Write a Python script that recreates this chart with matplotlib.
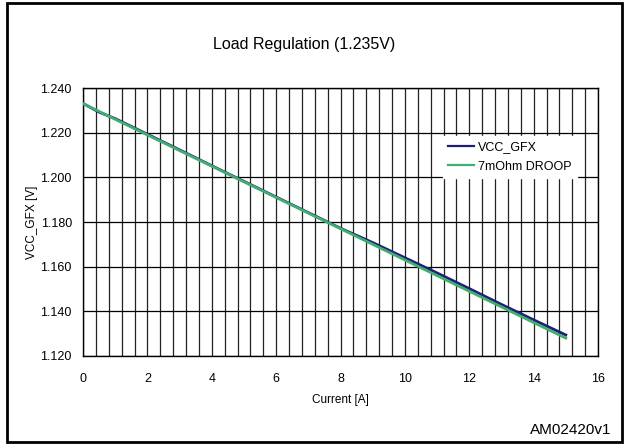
import matplotlib
matplotlib.use('Agg')
import matplotlib.pyplot as plt
from matplotlib.patches import Rectangle
import numpy as np

plt.rcParams['font.family'] = ['Liberation Sans', 'DejaVu Sans']

# ── Dati ─────────────────────────────────────────────────────────────────
current = [0, 0.5, 1, 2, 3, 4, 5, 6, 7, 8, 9, 10, 11, 12, 13, 14, 15]
vcc_gfx = [1.2331, 1.2292, 1.2263, 1.2193, 1.2123, 1.2052, 1.1982, 1.1912,
           1.1842, 1.1772, 1.1708, 1.1640, 1.1572, 1.1502, 1.1431, 1.1362, 1.1294]
droop_7m = [1.2330, 1.2295, 1.2260, 1.2190, 1.2120, 1.2050, 1.1980, 1.1910,
            1.1840, 1.1770, 1.1700, 1.1630, 1.1560, 1.1490, 1.1420, 1.1350, 1.1280]
series_names = ['VCC_GFX', '7mOhm DROOP']
y_ticks = [1.120, 1.140, 1.160, 1.180, 1.200, 1.220, 1.240]
x_ticks = [0, 2, 4, 6, 8, 10, 12, 14, 16]

fig = plt.figure(figsize=(6.25, 4.44), dpi=100)
ax = fig.add_axes([0.1328, 0.1982, 0.824, 0.6036])

# griglia: verticali ogni 0.4 A, orizzontali ogni 0.02 V
for xv in np.arange(0, 16.01, 0.4):
    ax.axvline(xv, color='#222222', lw=0.9, zorder=1)
for yv in y_ticks:
    ax.axhline(yv, color='black', lw=0.9, zorder=1)

ax.plot(current, vcc_gfx, color='#1f1f78', lw=2.0, label=series_names[0], zorder=3)
ax.plot(current, droop_7m, color='#3fae6e', lw=2.0, label=series_names[1], zorder=3)

ax.set_xlim(0, 16)
ax.set_ylim(1.120, 1.240)
ax.set_xticks(x_ticks)
ax.set_yticks(y_ticks)
ax.set_yticklabels([f'{v:.3f}' for v in y_ticks])
ax.tick_params(length=0, labelsize=9)
ax.tick_params(axis='y', pad=8)
ax.tick_params(axis='x', pad=12)
for s in ax.spines.values():
    s.set_color('black')
    s.set_linewidth(1.0)

ax.set_xlabel('Current [A]', fontsize=8.5, labelpad=7)
ax.set_ylabel('VCC_GFX [V]', fontsize=8.5, labelpad=2)

leg = ax.legend(loc='center', bbox_to_anchor=(510 / 625, 1 - 157 / 444),
                bbox_transform=fig.transFigure, frameon=True, fontsize=9,
                handlelength=2.1, handletextpad=0.3, labelspacing=0.6,
                borderpad=0.45, fancybox=False)
leg.get_frame().set_edgecolor('white')
leg.get_frame().set_facecolor('white')
leg.get_frame().set_alpha(1)
leg.set_zorder(5)
for h in leg.get_lines():
    h.set_linewidth(1.6)

fig.text(304 / 625, 1 - 45 / 444, 'Load Regulation (1.235V)', fontsize=11.5,
         ha='center', va='center')
fig.text(611 / 625, 1 - 430 / 444, 'AM02420v1', fontsize=11,
         ha='right', va='center')

# cornice esterna
fig.patches.append(Rectangle((7 / 625, 2 / 444), 615 / 625, 439 / 444,
                             transform=fig.transFigure, fill=False,
                             edgecolor='black', lw=2))

plt.savefig('out.png', dpi=100)
